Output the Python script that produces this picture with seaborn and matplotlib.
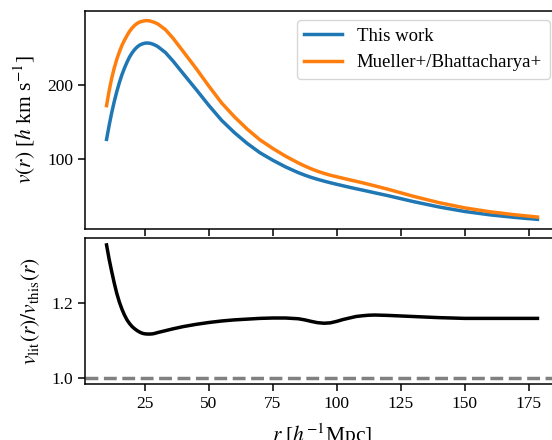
import numpy as np
import pandas as pd
import seaborn as sns
from matplotlib import pyplot as plt, rcParams

# values
r_vals = [10, 11, 12, 13, 14, 15, 16, 17, 18, 19, 20, 21, 22, 23, 24, 25, 26, 27, 28, 29, 30,
          33, 36, 40, 45, 50, 55, 60, 65, 70, 75, 80, 85, 87.5, 90, 92.5, 95, 97.5, 100,
          102.5, 105, 107.5, 110, 112.5, 115, 120, 130, 140, 150, 160, 170, 178.5]
v_this = [127, 145.5, 162.5, 177.5, 191, 203, 213.5, 222.5, 230.5, 237.5, 243, 247.5, 251,
          253.5, 255, 256, 256.2, 255.8, 254.8, 253.3, 251.5,
          243.5, 232, 215, 194, 172.5, 152.5, 136, 121.5, 109, 99, 90, 82.3, 79, 76, 73.4,
          71, 68.8, 66.7, 64.7, 62.7, 60.8, 59, 57.1, 55.2, 51.5, 43.5, 36.3, 30.3, 25.7,
          22.2, 19.7]
v_lit = [172.2, 191.8, 208.8, 222.6, 234.2, 244.2, 252.8, 259.9, 266.2, 271.9, 276.3, 279.9,
         282.6, 284.4, 285.3, 286.1, 286.2, 285.7, 284.7, 283.4, 281.9,
         274.2, 262.6, 244.7, 222.1, 198.4, 175.8, 157.2, 140.7, 126.3, 114.8, 104.4, 95.3,
         91.2, 87.5, 84.2, 81.4, 78.9, 76.8, 74.8, 72.7, 70.8, 68.8, 66.7, 64.5, 60.1, 50.6,
         42.1, 35.1, 29.8, 25.7, 22.8]
ratio_vals = [1.356, 1.318, 1.285, 1.254, 1.226, 1.203, 1.184, 1.168, 1.155, 1.145, 1.137,
              1.131, 1.126, 1.122, 1.119, 1.1175, 1.117, 1.117, 1.1175, 1.119, 1.121,
              1.126, 1.131, 1.137, 1.143, 1.148, 1.152, 1.155, 1.157, 1.159, 1.160, 1.160,
              1.158, 1.155, 1.151, 1.1475, 1.146, 1.147, 1.151, 1.156, 1.160, 1.164, 1.166,
              1.1675, 1.168, 1.167, 1.164, 1.161, 1.159, 1.159, 1.159, 1.159]
series_names = ['This work', 'Mueller+/Bhattacharya+']
series_colors = ['#1f77b4', '#ff7f0e']

rcParams['font.family'] = ['Liberation Serif', 'DejaVu Serif']
rcParams['mathtext.fontset'] = 'stix'
rcParams['font.size'] = 12.5
rcParams['axes.labelsize'] = 15.5
rcParams['axes.linewidth'] = 1.1
rcParams['xtick.major.width'] = 1.1
rcParams['ytick.major.width'] = 1.1
rcParams['xtick.major.size'] = 4.8
rcParams['ytick.major.size'] = 4.8

df = pd.DataFrame({'r': r_vals, series_names[0]: v_this, series_names[1]: v_lit})
long = df.melt(id_vars='r', var_name='source', value_name='v')

fig = plt.figure(figsize=(5.52, 4.4), dpi=100)
ax_top = fig.add_axes([0.154, 0.4789, 0.8587, 0.4968])
ax_bot = fig.add_axes([0.154, 0.1266, 0.8587, 0.3318], sharex=ax_top)

sns.lineplot(data=long, x='r', y='v', hue='source', hue_order=series_names,
             palette=series_colors, lw=2.5, sort=False, ax=ax_top)
handles, labels = ax_top.get_legend_handles_labels()
ax_top.legend(handles, labels, loc='upper right', frameon=True, fontsize=13.5)
ax_top.set_xlabel('')
ax_top.set_ylabel(r'$v(r)$ [$h$ km s$^{-1}$]', labelpad=7)
ax_top.set_yticks([100, 200])
ax_top.tick_params(labelbottom=False)

sns.lineplot(x=r_vals, y=ratio_vals, color='black', lw=2.5, sort=False, ax=ax_bot)
ax_bot.axhline(1.0, color='gray', ls='--', lw=2.5)
ax_bot.set_yticks([1.0, 1.2])
ax_bot.set_xticks([25, 50, 75, 100, 125, 150, 175])
# the reference crops the x label at the bottom edge
ax_bot.set_xlabel(r'$r$ [$h^{-1}$Mpc]', labelpad=7)
ax_bot.set_ylabel(r'$v_{\rm lit}(r)/v_{\rm this}(r)$', labelpad=7)

fig.savefig('out.png', dpi=100)
